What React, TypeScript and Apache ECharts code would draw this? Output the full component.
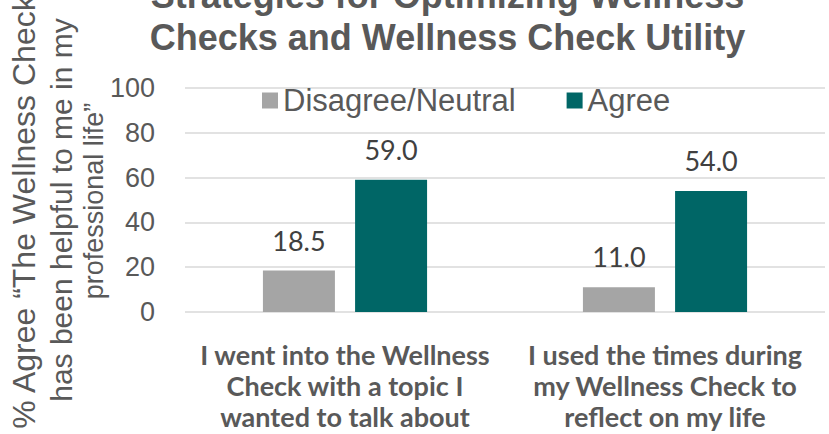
import React, { useEffect, useRef } from "react";
import * as echarts from "echarts";

const titleLines = ["Strategies for Optimizing Wellness", "Checks and Wellness Check Utility"];
const yAxisTitleLines = ["% Agree \u201CThe Wellness Check", "has been helpful to me in my", "professional life\u201D"];
const categories = [
  "I went into the Wellness\nCheck with a topic I\nwanted to talk about",
  "I used the times during\nmy Wellness Check to\nreflect on my life",
];
const seriesNames = ["Disagree/Neutral", "Agree"];
const disagreeValues = [18.5, 11.0];
const agreeValues = [59.0, 54.0];
const seriesColors = ["#A5A5A5", "#006666"];

export default function App() {
  const ref = useRef<HTMLDivElement>(null);
  useEffect(() => {
    if (!ref.current) return;
    const chart = echarts.init(ref.current, undefined, { renderer: "svg" });
    const labelStyle = {
      show: true,
      position: "top",
      distance: 17,
      fontFamily: "Lato",
      fontSize: 27,
      lineHeight: 27,
      color: "#404040",
      formatter: (p: any) => Number(p.value).toFixed(1),
    };
    const yTitleLayout = [
      { x: 24, y: 212, size: 32 },
      { x: 61, y: 210, size: 30 },
      { x: 94, y: 201, size: 27 },
    ];
    chart.setOption({
      animation: false,
      backgroundColor: "#FFFFFF",
      graphic: [
        {
          type: "text",
          x: 447.5,
          y: 16,
          style: {
            text: titleLines.join("\n"),
            fontFamily: "Liberation Sans",
            fontWeight: "bold",
            fontSize: 36,
            lineHeight: 42,
            fill: "#595959",
            align: "center",
            verticalAlign: "middle",
          },
        },
        ...yAxisTitleLines.map((t, i) => ({
          type: "text",
          x: yTitleLayout[i].x,
          y: yTitleLayout[i].y,
          rotation: Math.PI / 2,
          style: {
            text: t,
            fontFamily: "Liberation Sans",
            fontSize: yTitleLayout[i].size,
            fill: "#595959",
            align: "center",
            verticalAlign: "middle",
          },
        })),
      ],
      legend: {
        top: 85,
        left: 262,
        padding: 0,
        itemWidth: 16,
        itemHeight: 16,
        itemGap: 51,
        icon: "rect",
        data: seriesNames,
        textStyle: { fontFamily: "Liberation Sans", fontSize: 31, color: "#595959" },
      },
      grid: { left: 185, right: 4, top: 88, bottom: 122, outerBoundsMode: "none" },
      xAxis: {
        type: "category",
        data: categories,
        axisLine: { show: false },
        axisTick: { show: false },
        axisLabel: {
          interval: 0,
          margin: 27,
          fontFamily: "Lato",
          fontWeight: "bold",
          fontSize: 27,
          lineHeight: 31,
          color: "#595959",
        },
      },
      yAxis: {
        type: "value",
        min: 0,
        max: 100,
        interval: 20,
        axisLine: { show: false },
        axisTick: { show: false },
        splitLine: { lineStyle: { color: "#D9D9D9", width: 1.5 } },
        axisLabel: { margin: 30, fontFamily: "Liberation Sans", fontSize: 27, color: "#595959" },
      },
      series: [
        {
          name: seriesNames[0],
          type: "bar",
          data: disagreeValues,
          barWidth: 72,
          barGap: "28%",
          itemStyle: { color: seriesColors[0] },
          label: labelStyle,
        },
        {
          name: seriesNames[1],
          type: "bar",
          data: agreeValues,
          barWidth: 72,
          barGap: "28%",
          itemStyle: { color: seriesColors[1] },
          label: labelStyle,
        },
      ],
    });
    return () => chart.dispose();
  }, []);
  return (
    <div
      ref={ref}
      style={{ position: "fixed", left: 0, top: 0, width: 829, height: 434 }}
    />
  );
}
